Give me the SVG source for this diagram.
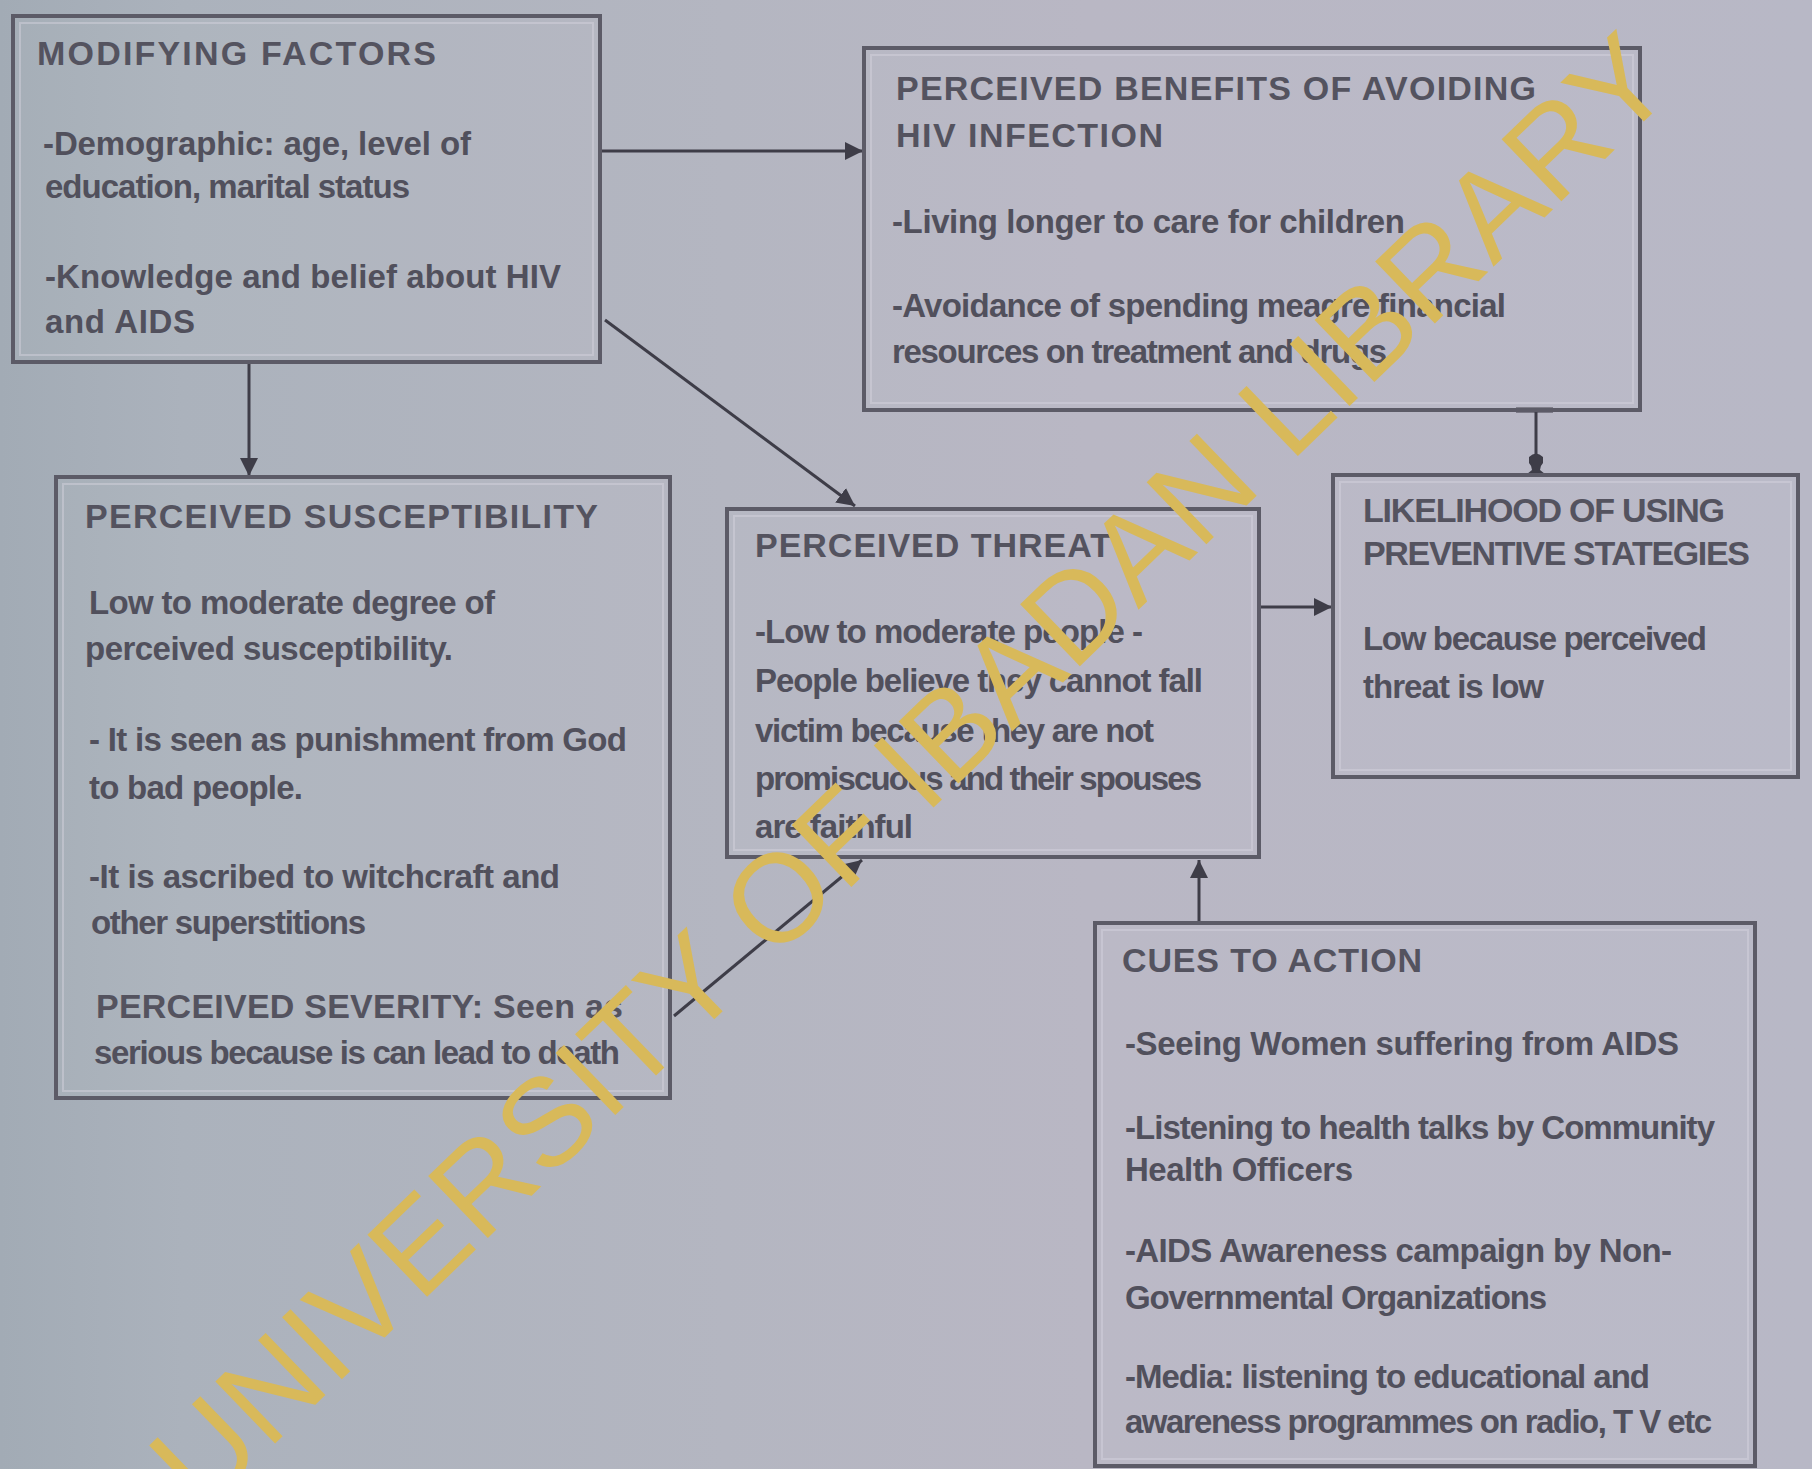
<svg xmlns="http://www.w3.org/2000/svg" width="1812" height="1469" viewBox="0 0 1812 1469">
<defs>
<linearGradient id="bg" x1="0" y1="0" x2="1" y2="0">
<stop offset="0" stop-color="#a2abb5"/>
<stop offset="0.1" stop-color="#abb2bc"/>
<stop offset="0.4" stop-color="#b4b6c1"/>
<stop offset="0.6" stop-color="#b9b7c4"/>
<stop offset="1" stop-color="#b8b8c6"/>
</linearGradient>
<marker id="ah" markerUnits="userSpaceOnUse" markerWidth="20" markerHeight="20" refX="18" refY="9" orient="auto">
<path d="M0,0 L18,9 L0,18 Z" fill="#3e3d48"/>
</marker>
<style>
.box{fill:#ffffff;fill-opacity:0.04;stroke:#5c5b67;stroke-width:4}
.inner{fill:none;stroke:#d6d5df;stroke-opacity:0.45;stroke-width:2}
.t{font-family:"Liberation Sans",Arial,sans-serif;font-weight:bold;font-size:34px;fill:#54535f}
.b{font-family:"Liberation Sans",Arial,sans-serif;font-weight:bold;font-size:33px;fill:#51505c}
.c{fill:none;stroke:#3e3d48;stroke-width:3}
.wm{font-family:"Liberation Sans",Arial,sans-serif;font-size:125px;fill:#d8b95a}
</style>
</defs>
<rect x="0" y="0" width="1812" height="1469" fill="url(#bg)"/>

<g id="connectors">
<line class="c" x1="602" y1="151" x2="863" y2="151" marker-end="url(#ah)"/>
<line class="c" x1="249" y1="363" x2="249" y2="476" marker-end="url(#ah)"/>
<line class="c" x1="605" y1="320" x2="855" y2="506" marker-end="url(#ah)"/>
<line class="c" x1="674" y1="1016" x2="862" y2="860" marker-end="url(#ah)"/>
<line class="c" x1="1199" y1="922" x2="1199" y2="860" marker-end="url(#ah)"/>
<line class="c" x1="1260" y1="607" x2="1332" y2="607" marker-end="url(#ah)"/>
<g id="benefits-likelihood">
<line x1="1516" y1="410" x2="1553" y2="410" stroke="#3e3d48" stroke-width="5"/>
<line x1="1536" y1="410" x2="1536" y2="455" stroke="#3e3d48" stroke-width="3"/>
<path d="M1529,457 Q1536,450 1543,457 L1543,463 Q1540,466 1540,470 L1545,474 L1527,474 L1532,470 Q1532,466 1529,463 Z" fill="#3e3d48"/>
<line x1="1520" y1="475" x2="1553" y2="475" stroke="#3e3d48" stroke-width="3"/>
</g>
</g>

<g id="modifying-factors">
<rect class="box" x="13" y="16" width="587" height="346"/>
<rect class="inner" x="20" y="23" width="573" height="332"/>
<text class="t" x="37" y="65" textLength="399">MODIFYING FACTORS</text>
<text class="b" x="43" y="155" textLength="428">-Demographic: age, level of</text>
<text class="b" x="45" y="198" textLength="365">education, marital status</text>
<text class="b" x="45" y="288" textLength="516">-Knowledge and belief about HIV</text>
<text class="b" x="45" y="333" textLength="150">and AIDS</text>
</g>

<g id="perceived-benefits">
<rect class="box" x="864" y="48" width="776" height="362"/>
<rect class="inner" x="871" y="55" width="762" height="348"/>
<text class="t" x="896" y="100" textLength="640">PERCEIVED BENEFITS OF AVOIDING</text>
<text class="t" x="896" y="147" textLength="267">HIV INFECTION</text>
<text class="b" x="892" y="233" textLength="513">-Living longer to care for children</text>
<text class="b" x="892" y="317" textLength="614">-Avoidance of spending meagre financial</text>
<text class="b" x="892" y="363" textLength="495">resources on treatment and drugs</text>
</g>

<g id="perceived-susceptibility">
<rect class="box" x="56" y="477" width="614" height="621"/>
<rect class="inner" x="63" y="484" width="600" height="607"/>
<text class="t" x="85" y="528" textLength="513">PERCEIVED SUSCEPTIBILITY</text>
<text class="b" x="89" y="614" textLength="406">Low to moderate degree of</text>
<text class="b" x="85" y="660" textLength="368">perceived susceptibility.</text>
<text class="b" x="89" y="751" textLength="538">- It is seen as punishment from God</text>
<text class="b" x="89" y="799" textLength="214">to bad people.</text>
<text class="b" x="89" y="888" textLength="471">-It is ascribed to witchcraft and</text>
<text class="b" x="91" y="934" textLength="275">other superstitions</text>
<text class="t" x="96" y="1018" textLength="527">PERCEIVED SEVERITY: Seen as</text>
<text class="b" x="94" y="1064" textLength="526">serious because is can lead to death</text>
</g>

<g id="perceived-threat">
<rect class="box" x="727" y="509" width="532" height="348"/>
<rect class="inner" x="734" y="516" width="518" height="334"/>
<text class="t" x="755" y="557" textLength="356">PERCEIVED THREAT</text>
<text class="b" x="755" y="643" textLength="388">-Low to moderate people -</text>
<text class="b" x="755" y="692" textLength="448">People believe they cannot fall</text>
<text class="b" x="755" y="742" textLength="399">victim because they are not</text>
<text class="b" x="755" y="790" textLength="447">promiscuous and their spouses</text>
<text class="b" x="755" y="838" textLength="158">are faithful</text>
</g>

<g id="likelihood">
<rect class="box" x="1333" y="475" width="465" height="302"/>
<rect class="inner" x="1340" y="482" width="451" height="288"/>
<text class="t" x="1363" y="522" textLength="362">LIKELIHOOD OF USING</text>
<text class="t" x="1363" y="565" textLength="387">PREVENTIVE STATEGIES</text>
<text class="b" x="1363" y="650" textLength="344">Low because perceived</text>
<text class="b" x="1363" y="698" textLength="181">threat is low</text>
</g>

<g id="cues-to-action">
<rect class="box" x="1095" y="923" width="660" height="543"/>
<rect class="inner" x="1102" y="930" width="646" height="529"/>
<text class="t" x="1122" y="972" textLength="300">CUES TO ACTION</text>
<text class="b" x="1125" y="1055" textLength="554">-Seeing Women suffering from AIDS</text>
<text class="b" x="1125" y="1139" textLength="590">-Listening to health talks by Community</text>
<text class="b" x="1125" y="1181" textLength="228">Health Officers</text>
<text class="b" x="1125" y="1262" textLength="547">-AIDS Awareness campaign by Non-</text>
<text class="b" x="1125" y="1309" textLength="422">Governmental Organizations</text>
<text class="b" x="1125" y="1388" textLength="525">-Media: listening to educational and</text>
<text class="b" x="1125" y="1433" textLength="587">awareness programmes on radio, T V etc</text>
</g>

<text class="wm" x="0" y="0" transform="translate(202,1514) rotate(-44)" textLength="2052">UNIVERSITY OF IBADAN LIBRARY</text>
</svg>
